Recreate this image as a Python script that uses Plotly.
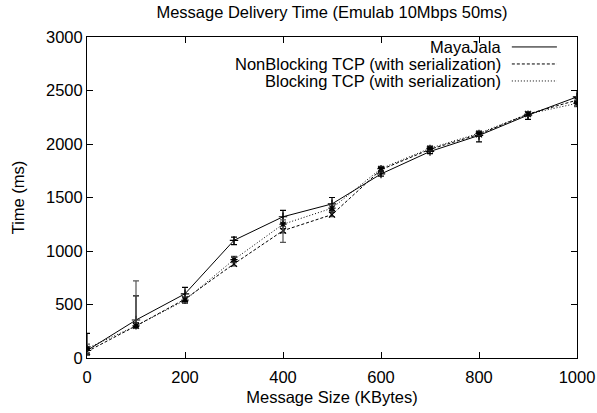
import plotly.graph_objects as go

sizes = [0, 100, 200, 300, 400, 500, 600, 700, 800, 900, 1000]

maya = [70, 355, 600, 1100, 1320, 1440, 1720, 1930, 2080, 2270, 2440]
maya_up = [160, 225, 60, 30, 60, 60, 20, 20, 30, 30, 60]
maya_dn = [40, 60, 70, 40, 60, 60, 20, 20, 60, 40, 40]

nonblock = [60, 300, 550, 880, 1190, 1340, 1760, 1950, 2090, 2280, 2410]
nonblock_up = [40, 30, 20, 20, 20, 20, 20, 20, 20, 20, 30]
nonblock_dn = [30, 20, 20, 20, 20, 20, 20, 20, 20, 20, 30]

blocking = [90, 300, 540, 920, 1250, 1400, 1770, 1960, 2100, 2280, 2380]
blocking_up = [40, 420, 30, 30, 40, 30, 20, 20, 20, 20, 30]
blocking_dn = [40, 20, 30, 30, 170, 30, 20, 20, 20, 20, 30]

names = ["MayaJala", "NonBlocking TCP (with serialization)", "Blocking TCP (with serialization)"]
dashes = ["solid", "3px,2px", "1px,2px"]

FONT = "Liberation Sans, Arial, sans-serif"
FS = 16.5

fig = go.Figure()
series = [(maya, maya_up, maya_dn, "cross-thin", "#000000"),
          (nonblock, nonblock_up, nonblock_dn, "x-thin", "#333333"),
          (blocking, blocking_up, blocking_dn, "asterisk", "#555555")]
for (vals, up, dn, sym, ecol), name, dash in zip(series, names, dashes):
    fig.add_trace(go.Scatter(
        x=sizes, y=vals, name=name, mode="lines+markers",
        line=dict(color="black", width=1, dash=dash),
        marker=dict(symbol=sym, size=6, color="black", line=dict(color="black", width=1.2)),
        error_y=dict(type="data", array=up, arrayminus=dn, symmetric=False,
                     color=ecol, thickness=1.2, width=3),
        showlegend=False,
    ))

# legend drawn inside the plot, gnuplot style (text right-aligned, sample on right)
leg_y = [0.969, 0.916, 0.863]
for name, dash, yy in zip(names, dashes, leg_y):
    fig.add_annotation(x=0.849, y=yy, xref="paper", yref="paper", text=name,
                       showarrow=False, xanchor="right", yanchor="middle",
                       font=dict(family=FONT, size=FS, color="black"))
    fig.add_shape(type="line", xref="paper", yref="paper", x0=0.867, x1=0.959, y0=yy, y1=yy,
                  line=dict(color="black", width=1, dash=dash))

fig.update_layout(
    width=597, height=413,
    margin=dict(l=87, r=20, t=37, b=55, autoexpand=False),
    paper_bgcolor="white", plot_bgcolor="white",
    font=dict(family=FONT, size=FS, color="black"),
    title=dict(text="Message Delivery Time (Emulab 10Mbps 50ms)", x=0.5, xref="paper",
               xanchor="center", y=0.971, yanchor="middle", font=dict(family=FONT, size=FS)),
)
fig.update_xaxes(range=[0, 1000], tickvals=[0, 200, 400, 600, 800, 1000],
                 title=dict(text="Message Size (KBytes)", standoff=6, font=dict(size=FS)),
                 automargin=False, ticklabelstandoff=4,
                 showgrid=False, zeroline=False, showline=True, linecolor="black", linewidth=1,
                 mirror="allticks", ticks="inside", ticklen=6, tickcolor="black")
fig.update_yaxes(range=[0, 3000], tickvals=[0, 500, 1000, 1500, 2000, 2500, 3000],
                 title=dict(text="Time (ms)", standoff=17, font=dict(size=FS)),
                 automargin=False,
                 showgrid=False, zeroline=False, showline=True, linecolor="black", linewidth=1,
                 mirror="allticks", ticks="inside", ticklen=6, tickcolor="black")

# remove the default 8px page margin so the figure sits at the window's corner
fig.write_html("out.html", config={"displayModeBar": False},
               post_script="document.body.style.margin='0';")
